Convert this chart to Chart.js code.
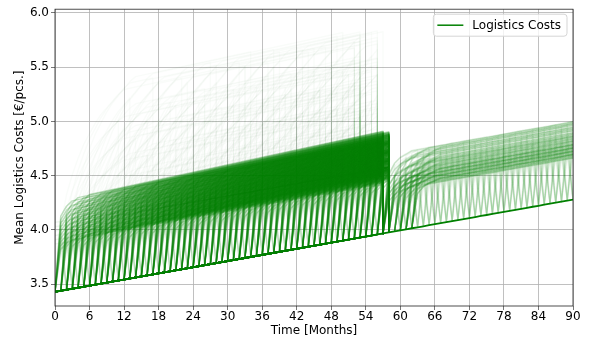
<!DOCTYPE html>
<html>
<head>
<meta charset="utf-8">
<script src="https://cdn.jsdelivr.net/npm/chart.js@4.4.1/dist/chart.umd.min.js"></script>
<style>
  html, body { margin: 0; padding: 0; background: #fff; }
  canvas { display: block; }
</style>
</head>
<body>
<canvas id="chart" width="592" height="340"></canvas>
<script>
// lowest cost line (the floor every run falls back to), one value per month 0..90
const baseline = [
  3.430, 3.439, 3.449, 3.458, 3.468, 3.477, 3.487, 3.496, 3.506, 3.515,
  3.524, 3.534, 3.543, 3.553, 3.562, 3.572, 3.581, 3.591, 3.600, 3.609,
  3.619, 3.628, 3.638, 3.647, 3.657, 3.666, 3.676, 3.685, 3.694, 3.704,
  3.713, 3.723, 3.732, 3.742, 3.751, 3.761, 3.770, 3.779, 3.789, 3.798,
  3.808, 3.817, 3.827, 3.836, 3.846, 3.855, 3.864, 3.874, 3.883, 3.893,
  3.902, 3.912, 3.921, 3.931, 3.940, 3.949, 3.959, 3.968, 3.978, 3.987,
  3.997, 4.006, 4.016, 4.025, 4.034, 4.044, 4.053, 4.063, 4.072, 4.082,
  4.091, 4.101, 4.110, 4.119, 4.129, 4.138, 4.148, 4.157, 4.167, 4.176,
  4.186, 4.195, 4.204, 4.214, 4.223, 4.233, 4.242, 4.252, 4.261, 4.271,
  4.280
];

// first phase: runs leave the floor in these months and fall back at month 57 or 58
const firstStartMonths = [
  0, 1, 2, 3, 4, 5, 6, 7, 8, 9, 10, 11, 12, 13, 14, 15, 16, 17, 18, 19,
  20, 21, 22, 23, 24, 25, 26, 27, 28, 29, 30, 31, 32, 33, 34, 35, 36, 37, 38, 39,
  40, 41, 42, 43, 44, 45, 46, 47, 48, 49, 50, 51, 52, 53, 54, 55, 56, 57
];
const firstLevels = [0.45, 0.49, 0.53, 0.57, 0.61, 0.65, 0.69, 0.73, 0.77, 0.81]; // € above floor
const firstRise = [0.85, 0.95];           // share of the step after 1 and 2 months
const firstSpread = [0, 0.02, 0.01, 0.03];
const firstDrift = 0.002;                 // €/month on top of the floor
const firstEndMonths = [57, 58];

// lighter runs of the first phase that touch the floor for one month
const firstDipMonths = [
  2, 3, 4, 5, 6, 7, 8, 9, 10, 11, 12, 13, 14, 15, 16, 17, 18, 19, 20, 21,
  22, 23, 24, 25, 26, 27, 28, 29, 30, 31, 32, 33, 34, 35, 36, 37, 38, 39, 40, 41,
  42, 43, 44, 45, 46, 47, 48, 49, 50, 51, 52, 53, 54, 55, 56
];
const firstDipLevels = [0.44, 0.48, 0.52, 0.56, 0.6, 0.64];

// faint high runs in the same phase
const highLevels = [0.9, 1.1, 1.3, 1.5, 1.75];
const highRise = [0.35, 0.5, 0.6, 0.68, 0.75, 0.8, 0.85, 0.89, 0.92, 0.95, 0.98];
const highSpread = [0, 0.05, 0.1];
const highLengths = [10, 16, 24, 32, 45];
const highLateFalls = [50, 52, 53, 55, 56];
const highDrift = 0.002;
const highFallLevel = 0.6;

// second phase: runs restart after the fall and dip to the floor once
const secondStartMonths = [57, 58, 59, 60, 61, 62];
const secondDipMonths = [
  60, 61, 62, 63, 64, 65, 66, 67, 68, 69, 70, 71, 72, 73, 74, 75,
  76, 77, 78, 79, 80, 81, 82, 83, 84, 85, 86, 87, 88, 89, 90
];
const secondLevels = [0.38, 0.41, 0.44, 0.47, 0.50, 0.54, 0.58, 0.63, 0.68];
const secondRise = [0.75, 0.88, 0.94, 0.97];
const secondSpread = [0, 0.015, 0.03, 0.008, 0.023, 0.038, 0.004, 0.019, 0.034];

const GREEN = '0, 128, 0';

function firstRun(k, level, end) {
  const pts = [{x: 0, y: baseline[0]}];
  if (k > 0) pts.push({x: k, y: baseline[k]});
  for (let m = k + 1; m <= end; m++) {
    const i = m - k - 1;
    if (i < firstRise.length) {
      pts.push({x: m, y: baseline[m] + level * firstRise[i]});
    } else if (i === firstRise.length || m === end) {
      pts.push({x: m, y: baseline[m] + level + firstDrift * (i - firstRise.length)});
    }
  }
  pts.push({x: end, y: baseline[end]});
  return pts;
}

function firstDipRun(d, level) {
  const pts = [];
  for (let m = Math.max(0, d - 2); m <= d + 2; m++) {
    const y = m === d ? baseline[m] : m === d + 1 ? baseline[m] + level * firstRise[0] : baseline[m] + level;
    pts.push({x: m, y: y});
  }
  return pts;
}

function highRun(k, level, len, end, late) {
  const pts = [{x: 0, y: baseline[0]}];
  if (k > 0) pts.push({x: k, y: baseline[k]});
  let fall = k + len;
  if (fall >= end) fall = Math.max(late, k + 2);
  if (fall >= end) fall = end;
  for (let m = k + 1; m <= fall; m++) {
    const i = m - k - 1;
    if (i < highRise.length) {
      pts.push({x: m, y: baseline[m] + level * highRise[i]});
    } else if (i === highRise.length || m === fall) {
      pts.push({x: m, y: baseline[m] + level + highDrift * (i - highRise.length)});
    }
  }
  if (fall < end) {
    pts.push({x: fall, y: baseline[fall] + highFallLevel});
    pts.push({x: end, y: baseline[end] + highFallLevel});
  }
  pts.push({x: end, y: baseline[end]});
  return pts;
}

function secondRun(start, dip, level) {
  const pts = [{x: start, y: baseline[start]}];
  for (let m = start + 1; m <= 90; m++) {
    const i = m - start - 1;
    const share = i < secondRise.length ? secondRise[i] : 1;
    pts.push({x: m, y: m === dip ? baseline[m] : baseline[m] + level * share});
  }
  return pts;
}

function runSet(data, alpha) {
  return {
    data: data,
    borderColor: `rgba(${GREEN}, ${alpha})`,
    borderWidth: 1.5,
    borderJoinStyle: 'round',
    pointRadius: 0,
    tension: 0,
    fill: false
  };
}

const datasets = [];
datasets.push({
  label: 'Logistics Costs',
  data: baseline.map((v, m) => ({x: m, y: v})),
  borderColor: '#008000',
  borderWidth: 1.8,
  pointRadius: 0,
  tension: 0,
  fill: false
});
firstStartMonths.forEach((k, n) => {
  firstLevels.forEach((lv, j) => {
    const end = firstEndMonths[(j + n) % firstEndMonths.length];
    if (k >= end) return;
    datasets.push(runSet(firstRun(k, lv + firstSpread[n % firstSpread.length], end), 0.25));
  });
});
firstDipMonths.forEach(d => {
  firstDipLevels.forEach(lv => {
    datasets.push(runSet(firstDipRun(d, lv), 0.06));
  });
});
firstStartMonths.forEach((k, n) => {
  highLevels.forEach((lv, j) => {
    const end = firstEndMonths[(j + n) % firstEndMonths.length];
    if (k >= end) return;
    const len = highLengths[(n * 2 + j) % highLengths.length];
    const late = highLateFalls[(n + 3 * j) % highLateFalls.length];
    datasets.push(runSet(highRun(k, lv + highSpread[n % highSpread.length], len, end, late), 0.022));
  });
});
secondDipMonths.forEach((d, n) => {
  secondLevels.forEach((lv, j) => {
    let start = secondStartMonths[(n + j) % secondStartMonths.length];
    if (start > d - 2) start = secondStartMonths[(n + j) % 2];
    datasets.push(runSet(secondRun(start, d, lv + secondSpread[(n + 2 * j) % secondSpread.length]), 0.05));
  });
});

const FONT = {family: '"DejaVu Sans", sans-serif', size: 12};

const frameAndLegend = {
  id: 'frameAndLegend',
  afterDraw(chart) {
    const {ctx, chartArea: a} = chart;
    ctx.save();
    ctx.strokeStyle = '#222';
    ctx.lineWidth = 0.8;
    ctx.strokeRect(a.left, a.top, a.right - a.left, a.bottom - a.top);

    const label = chart.data.datasets[0].label;
    ctx.font = '12px "DejaVu Sans", sans-serif';
    const tw = ctx.measureText(label).width;
    const w = 4 + 26 + 9 + tw + 6, h = 22;
    const x = a.right - 6 - w, y = a.top + 5;
    ctx.beginPath();
    ctx.roundRect(x, y, w, h, 3);
    ctx.fillStyle = 'rgba(255,255,255,0.8)';
    ctx.fill();
    ctx.strokeStyle = '#d5d5d5';
    ctx.lineWidth = 1;
    ctx.stroke();
    ctx.beginPath();
    ctx.moveTo(x + 4, y + h / 2);
    ctx.lineTo(x + 30, y + h / 2);
    ctx.strokeStyle = '#008000';
    ctx.lineWidth = 1.5;
    ctx.stroke();
    ctx.fillStyle = '#000';
    ctx.textBaseline = 'middle';
    ctx.fillText(label, x + 39, y + h / 2 + 0.5);
    ctx.restore();
  }
};

new Chart(document.getElementById('chart').getContext('2d'), {
  type: 'line',
  data: {datasets: datasets},
  options: {
    responsive: false,
    animation: false,
    parsing: false,
    normalized: true,
    events: [],
    layout: {padding: {top: 6, right: 19, left: 0, bottom: 0}},
    plugins: {
      legend: {display: false},
      tooltip: {enabled: false}
    },
    scales: {
      x: {
        type: 'linear',
        min: 0,
        max: 90,
        afterFit: s => { s.height = 34; },
        ticks: {stepSize: 6, color: '#000', font: FONT, padding: 0, maxRotation: 0},
        grid: {color: '#b0b0b0', lineWidth: 0.8, tickLength: 4, tickColor: '#555', tickWidth: 0.8},
        border: {display: false},
        title: {display: true, text: 'Time [Months]', color: '#000', font: FONT, padding: {top: 0, bottom: 2}}
      },
      y: {
        type: 'linear',
        min: 3.3,
        max: 6.033,
        afterFit: s => { s.width = 55; },
        ticks: {stepSize: 0.5, includeBounds: false, color: '#000', font: FONT, padding: 2,
                callback: v => v.toFixed(1)},
        grid: {color: '#b0b0b0', lineWidth: 0.8, tickLength: 4, tickColor: '#555', tickWidth: 0.8},
        border: {display: false},
        title: {display: true, text: 'Mean Logistics Costs [€/pcs.]', color: '#000', font: FONT, padding: {top: 13, bottom: 0}}
      }
    }
  },
  plugins: [frameAndLegend]
});
</script>
</body>
</html>
